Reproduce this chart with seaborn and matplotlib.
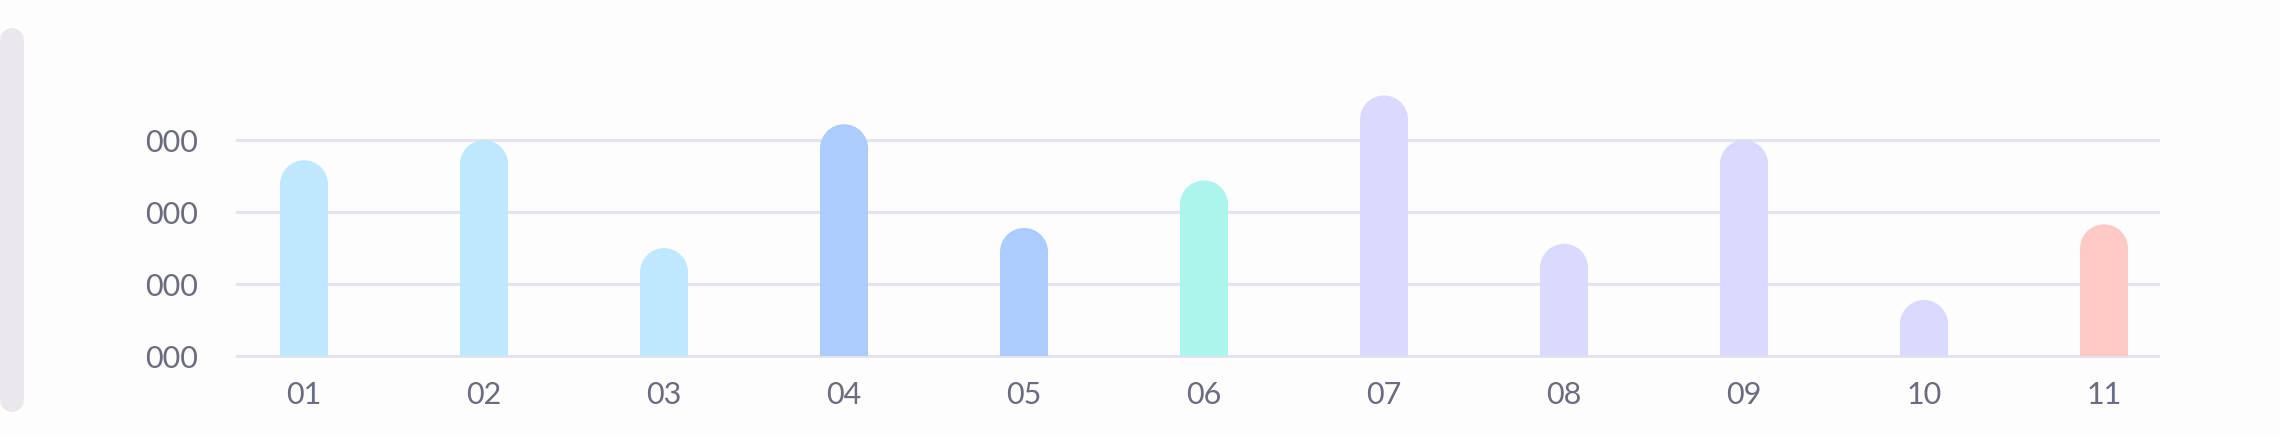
import pandas as pd
import matplotlib.pyplot as plt
from matplotlib.lines import Line2D
from matplotlib.patches import Ellipse
import seaborn as sns

# chart data
months = ["01", "02", "03", "04", "05", "06", "07", "08", "09", "10", "11"]
values = [2.72, 3.0, 1.5, 3.22, 1.78, 2.44, 3.62, 1.56, 3.0, 0.78, 1.83]
bar_colors = ["#BDE8FD", "#BDE8FD", "#BDE8FD", "#ADCCFE", "#ADCCFE", "#ACF5EC",
              "#DADAFE", "#DADAFE", "#DADAFE", "#DADAFE", "#FFC9C6"]
y_ticks = [0, 1, 2, 3]
y_labels = ["000", "000", "000", "000"]

df = pd.DataFrame({"month": months, "value": values})

sns.set_style("white")
plt.rcParams["font.family"] = ["Lato", "DejaVu Sans"]

W, H, DPI = 2280, 436, 100
fig = plt.figure(figsize=(W / DPI, H / DPI), dpi=DPI, facecolor="#FDFDFE")

# left grey pill of the card (pixel coords, origin bottom left), 24px wide
fig.add_artist(Line2D([12, 12], [H - 400, H - 40], transform=None,
                      color="#EAE8EC", linewidth=24 * 72 / DPI,
                      solid_capstyle="round"))

ax = fig.add_axes([236 / W, (436 - 357.5) / H, 1924 / W, 275 / H])
ax.set_facecolor("none")

sns.barplot(data=df, x="month", y="value", hue="month", palette=bar_colors,
            legend=False, width=0.267, ax=ax, zorder=3, saturation=1)

ax.set_xlim(-0.378, 10.311)
ax.set_ylim(-0.02, 3.8)
ax.set_yticks(y_ticks)
ax.set_yticklabels(y_labels)
ax.yaxis.grid(True, color="#E4E4EE", linewidth=2.3, zorder=0)
ax.xaxis.grid(False)
ax.set_xlabel("")
ax.set_ylabel("")
for s in ax.spines.values():
    s.set_visible(False)
ax.tick_params(axis="both", length=0, labelsize=22, labelcolor="#6B6C7E")
ax.tick_params(axis="y", pad=27)
ax.tick_params(axis="x", pad=17)

# round the top of every bar
fig.canvas.draw()
t = ax.transData
ppu_x = t.transform((1, 0))[0] - t.transform((0, 0))[0]
ppu_y = t.transform((0, 1))[1] - t.transform((0, 0))[1]
for p in list(ax.patches):
    w = p.get_width()
    h = p.get_height()
    r_y = (w * ppu_x / 2) / ppu_y
    p.set_y(0)
    p.set_height(h - r_y)
    p.set_edgecolor("none")
    cx = p.get_x() + w / 2
    ax.add_patch(Ellipse((cx, h - r_y), w, 2 * r_y, facecolor=p.get_facecolor(),
                         edgecolor="none", zorder=3))

fig.savefig("out.png", dpi=DPI, facecolor=fig.get_facecolor())
